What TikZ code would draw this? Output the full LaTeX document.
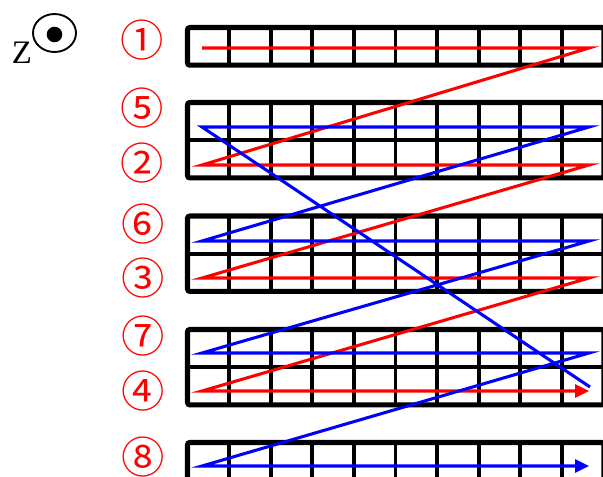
\documentclass[tikz,border=0pt]{standalone}
\usepackage{fontspec}
\setmainfont{Liberation Serif}
\newfontfamily\cjkfont{Noto Sans CJK JP}
\usetikzlibrary{arrows.meta}

\begin{document}
\begin{tikzpicture}[
    x=0.03cm, y=-0.03cm,
    blockline/.style={line width=4.3pt, rounded corners=2pt},
    cellline/.style={line width=3.4pt},
    scanred/.style={draw=red, line width=2.6pt},
    scanblue/.style={draw=blue, line width=2.6pt},
    tipend/.style={-{Triangle[length=0.42cm, width=0.39cm]}},
    num/.style={text=red, inner sep=0pt, font=\cjkfont\fontsize{37}{37}\selectfont}
]
\useasboundingbox (0,0) rectangle (603,477);

% grid blocks: top edge / number of rows
\foreach \top/\rows in {27.5/1, 102.5/2, 216/2, 329.5/2, 442.5/1} {
    \draw[blockline] (187.5,\top) rectangle (604,{\top+37.7*\rows});
    \foreach \i in {1,...,9}
        \draw[cellline] ({187.5+41.6*\i},\top) -- ++(0,{37.7*\rows});
    \ifnum\rows=2
        \draw[cellline] (187.5,{\top+37.7}) -- (604,{\top+37.7});
    \fi
}

% row start and end points
\foreach \n/\y in {1/48, 2/165, 3/278, 4/391, 5/127, 6/241, 7/353, 8/466} {
    \coordinate (s\n) at (202,\y);
    \coordinate (e\n) at (589,\y);
}
\coordinate (b0) at (590,387);

% scan order
\draw[scanred, tipend] (s1) -- (e1) -- (s2) -- (e2) -- (s3) -- (e3) -- (s4) -- (e4);
\draw[scanblue, tipend] (b0) -- (s5) -- (e5) -- (s6) -- (e6) -- (s7) -- (e7) -- (s8) -- (e8);

% row numbers
\node[num] (l1) at (142,40) {①};
\node[num] (l5) at (142,108) {⑤};
\node[num] (l2) at (142,163) {②};
\node[num] (l6) at (143,224) {⑥};
\node[num] (l3) at (143,278) {③};
\node[num] (l7) at (143,336) {⑦};
\node[num] (l4) at (143,391) {④};
\node[num] (l8) at (143,457) {⑧};

% z axis out of the page
\node[font=\fontsize{28}{28}\selectfont, inner sep=0pt] (zlab) at (22,53) {Z};
\draw[line width=1.6pt] (54.5,33) ellipse [x radius=21.5, y radius=19];
\fill (54.5,34.5) circle (7.8);
\end{tikzpicture}
\end{document}
